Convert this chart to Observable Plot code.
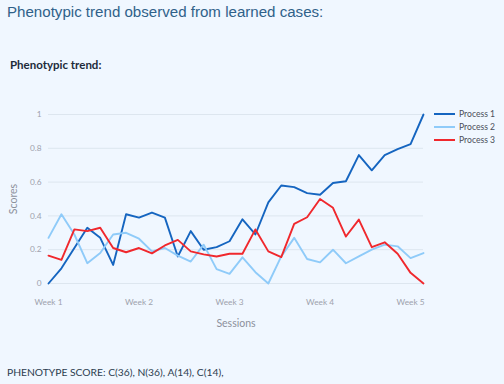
<!DOCTYPE html>
<html><head><meta charset="utf-8">
<script src="https://cdn.jsdelivr.net/npm/d3@7"></script>
<script src="https://cdn.jsdelivr.net/npm/@observablehq/plot@0.6"></script>
<style>
html,body{margin:0;padding:0}
body{background:#f0f7ff;width:504px;height:384px;overflow:hidden;position:relative;font-family:Lato,"Open Sans",sans-serif}
#title{position:absolute;left:7px;top:3px;font-family:"Liberation Sans",Arial,sans-serif;font-size:15.1px;color:#2f6189;white-space:nowrap}
#subtitle{position:absolute;left:10px;top:58px;font-family:Lato,sans-serif;font-weight:bold;font-size:11.5px;color:#1d2b3a}
#chart{position:absolute;left:0;top:90px}
#legend{position:absolute;left:434px;top:107px;font-size:8.6px;color:#4a4f5a}
#legend .row{display:flex;align-items:center;height:13.4px;white-space:nowrap}
#legend svg{margin-right:4px}
#caption{position:absolute;left:7px;top:366px;font-size:10.3px;color:#2c3d4f;white-space:nowrap}
g[aria-label="x-axis label"] text, g[aria-label="y-axis label"] text{font-size:10.5px;fill:#8c919c}
</style></head><body>
<div id="title">Phenotypic trend observed from learned cases:</div>
<div id="subtitle">Phenotypic trend:</div>
<div id="chart"></div>
<div id="legend"></div>
<div id="caption">PHENOTYPE SCORE: C(36), N(36), A(14), C(14),</div>
<script>
const seriesNames = ["Process 1", "Process 2", "Process 3"];
const seriesColors = ["#1565c0", "#8fcbf9", "#f0282d"];
const process1 = [0.00, 0.09, 0.21, 0.33, 0.27, 0.11, 0.41, 0.39, 0.42, 0.39, 0.16, 0.31, 0.20, 0.215, 0.25, 0.38, 0.29, 0.48, 0.58, 0.57, 0.535, 0.525, 0.595, 0.605, 0.76, 0.67, 0.76, 0.795, 0.825, 1.00];
const process2 = [0.27, 0.41, 0.29, 0.12, 0.18, 0.29, 0.30, 0.265, 0.19, 0.21, 0.165, 0.13, 0.23, 0.085, 0.057, 0.155, 0.067, 0.00, 0.16, 0.27, 0.145, 0.125, 0.20, 0.12, 0.16, 0.20, 0.23, 0.22, 0.15, 0.18];
const process3 = [0.165, 0.14, 0.32, 0.31, 0.33, 0.21, 0.185, 0.21, 0.178, 0.225, 0.258, 0.19, 0.172, 0.16, 0.176, 0.176, 0.32, 0.19, 0.156, 0.353, 0.392, 0.50, 0.448, 0.278, 0.378, 0.215, 0.244, 0.176, 0.063, 0.00];
const weekTicks = [0, 7, 14, 21, 28];
const weekLabels = ["Week 1", "Week 2", "Week 3", "Week 4", "Week 5"];
const yTicks = [0, 0.2, 0.4, 0.6, 0.8, 1];

const data = [process1, process2, process3].flatMap((vals, k) =>
  vals.map((v, i) => ({session: i, score: v, series: seriesNames[k]})));

const chart = Plot.plot({
  width: 504, height: 250,
  marginLeft: 48, marginRight: 81, marginTop: 24, marginBottom: 57,
  style: {background: "transparent", fontFamily: "Lato, 'Open Sans', sans-serif", fontSize: "8.3px", color: "#9ea2ad"},
  x: {domain: [0, process1.length - 1]},
  y: {domain: [0, 1]},
  color: {domain: seriesNames, range: seriesColors},
  marks: [
    Plot.gridY(yTicks, {stroke: "#dde6ef", strokeOpacity: 1, strokeWidth: 1}),
    Plot.axisY(yTicks, {tickSize: 0, tickPadding: 7, tickFormat: d => String(d), label: "Scores", labelArrow: false, labelAnchor: "center", labelOffset: 39}),
    Plot.axisX(weekTicks, {tickSize: 0, tickPadding: 16, tickFormat: d => weekLabels[weekTicks.indexOf(d)], label: "Sessions", labelArrow: false, labelAnchor: "center", labelOffset: 43}),
    Plot.lineY(data, {x: "session", y: "score", stroke: "series", strokeWidth: 1.9})
  ]
});
document.getElementById("chart").appendChild(chart);

const legend = document.getElementById("legend");
seriesNames.forEach((name, k) => {
  const row = document.createElement("div");
  row.className = "row";
  row.innerHTML = `<svg width="21" height="4"><line x1="0" x2="21" y1="2" y2="2" stroke="${seriesColors[k]}" stroke-width="2"/></svg><span>${name}</span>`;
  legend.appendChild(row);
});
</script>
</body></html>
